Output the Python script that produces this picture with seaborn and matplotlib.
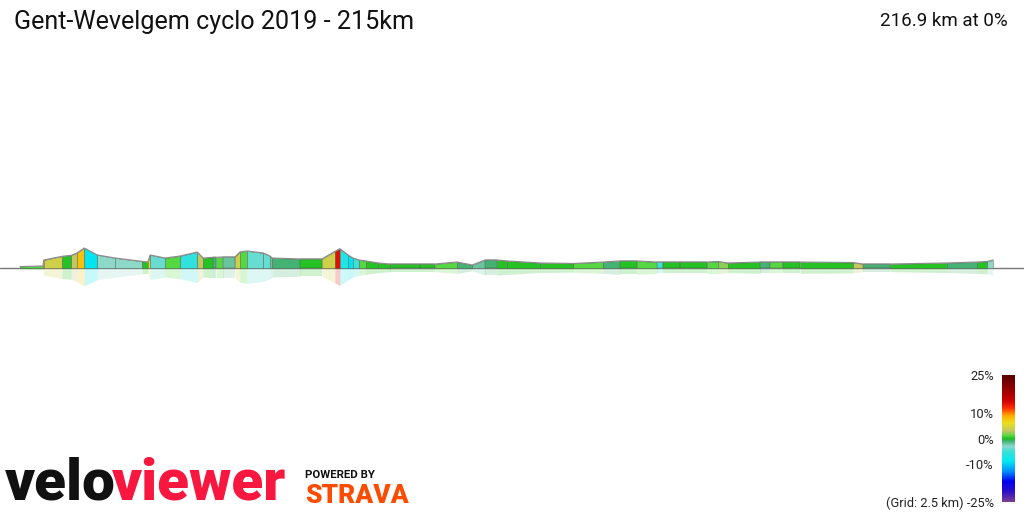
import numpy as np
import matplotlib
matplotlib.use("Agg")
import matplotlib.pyplot as plt
from matplotlib.colors import LinearSegmentedColormap, Normalize
import seaborn as sns

# profile: distance (km), elevation (m), grade per segment (%)
dist_km = [0.0, 5.1, 5.3, 9.4, 11.4, 12.7, 14.3, 17.2, 21.2, 27.2,
           28.5, 29.0, 32.3, 35.7, 39.5, 40.8, 43.0, 43.7, 45.3, 47.9,
           49.0, 50.6, 54.2, 55.7, 56.2, 62.4, 67.3, 70.2, 71.3, 73.1,
           74.2, 75.6, 77.1, 79.8, 82.5, 89.2, 92.5, 97.4, 100.8, 103.7,
           106.3, 108.6, 115.9, 123.3, 130.0, 133.7, 137.5, 142.0, 143.3, 147.1,
           153.1, 155.6, 157.8, 165.0, 167.2, 170.1, 173.9, 185.7, 187.9, 193.9,
           206.6, 213.3, 215.6, 216.9]
elev_m = [11, 15, 60, 88, 95, 113, 150, 98, 75, 50,
          45, 98, 75, 90, 120, 75, 80, 80, 83, 83,
          120, 128, 113, 90, 75, 68, 68, 125, 145, 98,
          75, 60, 53, 38, 30, 30, 30, 45, 23, 60,
          60, 53, 38, 34, 45, 53, 53, 45, 45, 45,
          45, 49, 38, 45, 45, 45, 45, 41, 30, 30,
          38, 45, 49, 60]
grade_pct = [1, 4, 4, 0, 3, 8, -9, -3, -3, 0,
             6, -4, 1, -6, 3, 0, -1, 1, -2, 4,
             1, -4, -4, -2, -1, 0, 4, 14, -7, -9,
             -5, 1, 0, 0, 0, 0, 1, -1, -2, -1,
             0, 0, 0, 1, -1, 0, 1, -5, 0, 0,
             1, 2, 0, -1, 1, 0, 0, 3, -1, 0,
             -1, 0, -3]

title = "Gent-Wevelgem cyclo 2019 - 215km"
info = "216.9 km at 0%"
legend_ticks = [25, 10, 0, -10, -25]
legend_labels = ["25%", "10%", "0%", "-10%", "(Grid: 2.5 km) -25%"]

grade_stops = [-25, -21, -17, -13, -9, -5, -3, -1, 0, 1, 3, 6, 9, 12, 15, 20, 25]
stop_colors = ["#7a3d92", "#2a10c8", "#0000f0", "#0090ff", "#00e8f0", "#40e0d8",
               "#90d8c8", "#40b070", "#20c020", "#50d840", "#c0c860", "#e8e020",
               "#ffb000", "#ff3000", "#d00000", "#900000", "#5a0000"]

cmap = LinearSegmentedColormap.from_list(
    "grade", [((g + 25) / 50, c) for g, c in zip(grade_stops, stop_colors)])
norm = Normalize(-25, 25)

sns.set_theme(style="white")
plt.rcParams["font.family"] = ["Roboto", "DejaVu Sans"]

fig = plt.figure(figsize=(10.24, 5.12), dpi=100)
ax = fig.add_axes([0, 0, 1, 1])
px_per_km = 973 / 216.9
m_per_px = 7.5
ax.set_xlim(-20 / px_per_km, 1004 / px_per_km)
ax.set_ylim(-244 * m_per_px, 268 * m_per_px)
ax.axis("off")

x = np.array(dist_km)
y = np.array(elev_m, dtype=float)
for i, g in enumerate(grade_pct):
    c = cmap(norm(g))
    ax.fill_between(x[i:i + 2], 0, y[i:i + 2], color=c, ec="#555555", lw=0.3, zorder=3)
    # reflection
    ax.fill_between(x[i:i + 2], 0, -y[i:i + 2] * 0.9, color=c, alpha=0.22, lw=0, zorder=2)

sns.lineplot(x=dist_km, y=elev_m, ax=ax, color="#8a8a8a", lw=0.8, zorder=4)
ax.axhline(0, color="#777777", lw=1.0, zorder=1)

def fy(py):
    return 1 - py / 512

fig.text(14 / 1024, fy(29), title, fontsize=18.1, color="#111111", va="baseline", ha="left")
fig.text(1008 / 1024, fy(26), info, fontsize=13.5, color="#111111", va="baseline", ha="right")

# colour legend
cax = fig.add_axes([1002 / 1024, 10 / 512, 13 / 1024, 127 / 512])
cax.imshow(np.linspace(25, -25, 200)[:, None], aspect="auto", cmap=cmap, norm=norm,
           extent=[0, 1, -25, 25])
cax.set_xticks([])
cax.set_yticks(legend_ticks)
cax.set_yticklabels(legend_labels, fontsize=9.3, color="#222222")
cax.tick_params(axis="y", length=0, pad=6, left=True, labelleft=True, right=False, labelright=False)
for s in cax.spines.values():
    s.set_visible(False)

# logos
fig.text(5 / 1024, 0, "velo", fontsize=42, fontweight="black", color="#111111",
         ha="left", va="bottom")
fig.text(112 / 1024, 0, "viewer", fontsize=42, fontweight="black", color="#f8173e",
         ha="left", va="bottom")
fig.text(305 / 1024, fy(478), "POWERED BY", fontsize=8.2, fontweight="bold", color="#111111",
         ha="left", va="baseline")
fig.text(305 / 1024, fy(503), "STRAVA", fontsize=19, fontweight="black", color="#fc4c02",
         ha="left", va="baseline")

fig.savefig("out.png", dpi=100)
